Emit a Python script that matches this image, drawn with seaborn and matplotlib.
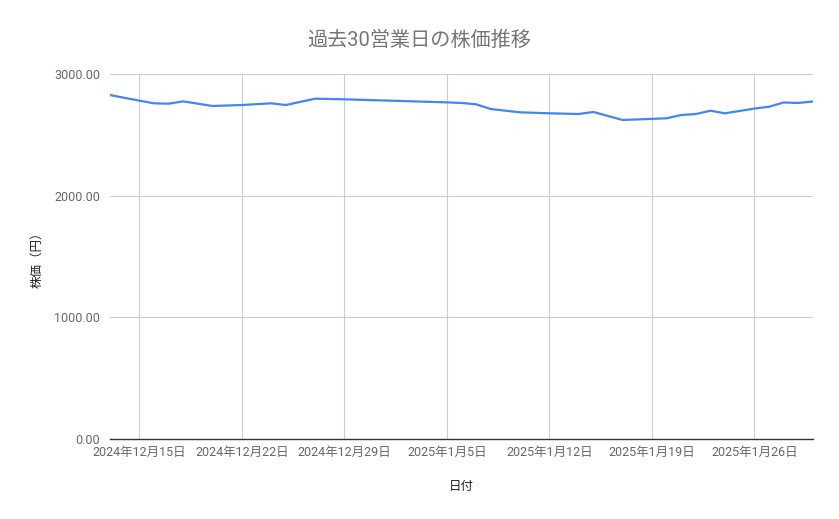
import matplotlib
matplotlib.use("Agg")
import matplotlib.pyplot as plt
import matplotlib.dates as mdates
from matplotlib.ticker import FuncFormatter
import pandas as pd
import seaborn as sns

# 過去30営業日の株価
dates = ["2024-12-13", "2024-12-15", "2024-12-16", "2024-12-17", "2024-12-18",
         "2024-12-20", "2024-12-22", "2024-12-24", "2024-12-25", "2024-12-27",
         "2024-12-29", "2025-01-05", "2025-01-06", "2025-01-07", "2025-01-08",
         "2025-01-10", "2025-01-12", "2025-01-14", "2025-01-15", "2025-01-17",
         "2025-01-20", "2025-01-21", "2025-01-22", "2025-01-23", "2025-01-24",
         "2025-01-26", "2025-01-27", "2025-01-28", "2025-01-29", "2025-01-30"]
prices = [2827, 2781, 2759, 2756, 2775,
          2737, 2745, 2759, 2745, 2797,
          2792, 2767, 2762, 2751, 2712,
          2685, 2677, 2671, 2688, 2622,
          2636, 2663, 2671, 2698, 2677,
          2716, 2731, 2766, 2762, 2774]

df = pd.DataFrame({"日付": pd.to_datetime(dates), "株価": prices})

sns.set_style("white")
plt.rcParams["font.family"] = ["Roboto", "Noto Sans CJK JP", "DejaVu Sans"]

fig = plt.figure(figsize=(8.39, 5.19), dpi=100)
ax = fig.add_axes([110 / 839, 1 - 439 / 519, 703 / 839, 365 / 519])

sns.lineplot(data=df, x="日付", y="株価", ax=ax, color="#4285f4", linewidth=1.6)

ax.set_ylim(0, 3000)
ax.set_xlim(df["日付"].iloc[0], df["日付"].iloc[-1])
ax.set_yticks([0, 1000, 2000, 3000])
ax.yaxis.set_major_formatter(FuncFormatter(lambda v, p: f"{v:.2f}"))

ax.xaxis.set_major_locator(mdates.WeekdayLocator(byweekday=mdates.SU))
ax.xaxis.set_major_formatter(FuncFormatter(
    lambda v, p: (lambda d: f"{d.year}年{d.month}月{d.day}日")(mdates.num2date(v))))

ax.grid(True, color="#cccccc", linewidth=0.8)
for side in ["top", "right", "left"]:
    ax.spines[side].set_visible(False)
ax.spines["bottom"].set_color("#333333")
ax.spines["bottom"].set_linewidth(1.0)
ax.tick_params(length=0, labelsize=9, labelcolor="#666666", pad=5)
ax.tick_params(axis="y", pad=7)

ax.set_xlabel("日付", fontsize=9, color="#222222", labelpad=15)
ax.set_ylabel("株価（円）", fontsize=9, color="#222222", labelpad=8)
fig.text(0.5, 1 - 40 / 519, "過去30営業日の株価推移", ha="center", va="center",
         fontsize=14.5, color="#757575")

fig.savefig("out.png", dpi=100)
